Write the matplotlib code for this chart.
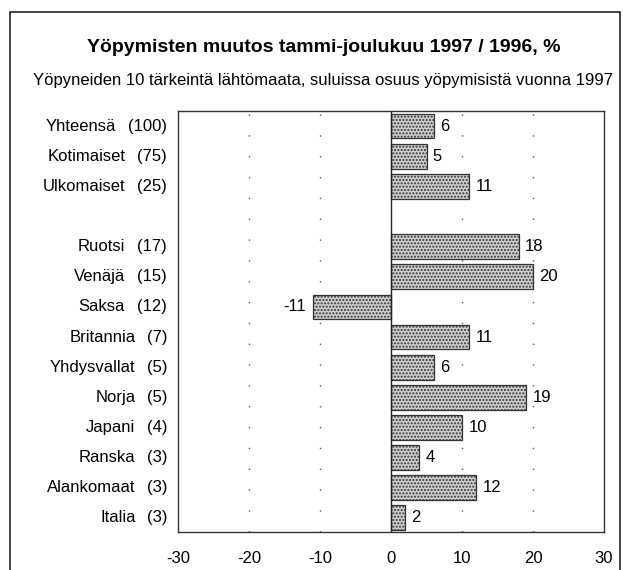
import matplotlib.pyplot as plt
from matplotlib.patches import Rectangle

plt.rcParams['font.family'] = ['Liberation Sans', 'DejaVu Sans']

# data
names = ['Yhteensä', 'Kotimaiset', 'Ulkomaiset', 'Ruotsi', 'Venäjä', 'Saksa',
         'Britannia', 'Yhdysvallat', 'Norja', 'Japani', 'Ranska',
         'Alankomaat', 'Italia']
shares = [100, 75, 25, 17, 15, 12, 7, 5, 5, 4, 3, 3, 3]
changes = [6, 5, 11, 18, 20, -11, 11, 6, 19, 10, 4, 12, 2]
xticks = [-30, -20, -10, 0, 10, 20, 30]

# rows, with an empty slot after the three totals
pos = [i if i < 3 else i + 1 for i in range(len(names))]

fig = plt.figure(figsize=(6.23, 5.7), dpi=100)
ax = fig.add_axes([178 / 623, 1 - 532 / 570, 426 / 623, 421 / 570])

ax.barh(pos, changes, height=0.82, color='#cfcfcf', edgecolor='#333333',
        linewidth=0.9, hatch='.....', zorder=3)

for x in [-20, -10, 10, 20]:
    ax.axvline(x, color='#555555', linewidth=1.0, linestyle=(0, (1, 14)), zorder=1)
ax.axvline(0, color='#222222', linewidth=1.0, zorder=4)

for p, v in zip(pos, changes):
    if v >= 0:
        ax.text(v + 0.9, p, str(v), ha='left', va='center', fontsize=12)
    else:
        ax.text(v - 1.0, p, str(v), ha='right', va='center', fontsize=12)

ax.set_xlim(-30, 30)
ax.set_ylim(13.47, -0.5)
ax.set_yticks([])
ax.set_xticks(xticks)
ax.set_xticklabels([str(t) for t in xticks], fontsize=12)
ax.tick_params(axis='x', length=0, pad=14)
for s in ax.spines.values():
    s.set_color('#333333')
    s.set_linewidth(1.0)

# category labels left of the axes: share column, name placed before it
for p, n, s in zip(pos, names, shares):
    share_txt = ax.annotate('(%d)' % s, xy=(0, p), xycoords=('axes fraction', 'data'),
                            xytext=(-11, 0), textcoords='offset pixels',
                            ha='right', va='center', fontsize=12)
    gap = 12 if s >= 10 else 11
    ax.annotate(n, xy=(0, 0.5), xycoords=share_txt,
                xytext=(-gap, 0), textcoords='offset pixels',
                ha='right', va='center', fontsize=12)

fig.text(324 / 623, 1 - 47 / 570, 'Yöpymisten muutos tammi-joulukuu 1997 / 1996, %',
         ha='center', va='center', fontsize=14, fontweight='bold')
fig.text(33 / 623, 1 - 80 / 570,
         'Yöpyneiden 10 tärkeintä lähtömaata, suluissa osuus yöpymisistä vuonna 1997',
         ha='left', va='center', fontsize=12)

# outer frame
fig.patches.append(Rectangle((10 / 623, -0.02), 610 / 623, 1.02 - 12 / 570,
                             transform=fig.transFigure, fill=False,
                             edgecolor='#222222', linewidth=1.2))

fig.savefig('out.png', dpi=100)
